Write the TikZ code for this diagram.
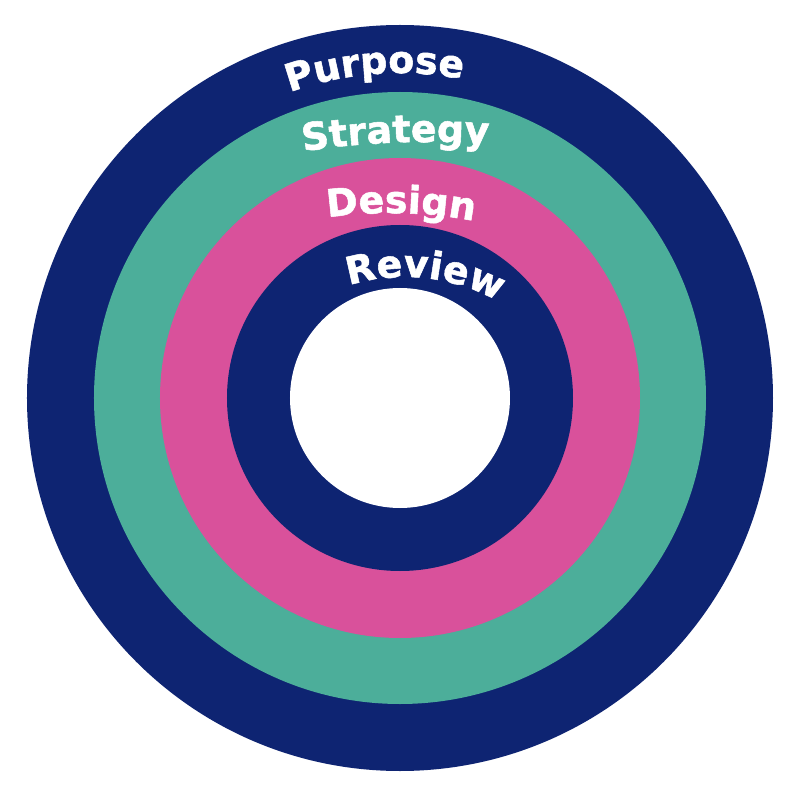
\documentclass[tikz,border=0pt]{standalone}
\usepackage{fontspec}
\setmainfont{DejaVu Sans}
\newfontfamily\ringfont{DejaVu Sans Bold}[FakeBold=1.4]
\usetikzlibrary{decorations.text}
\definecolor{ringnavy}{RGB}{14,36,114}
\definecolor{ringteal}{RGB}{76,174,154}
\definecolor{ringpink}{RGB}{217,81,155}
\tikzset{
  ringlabel/.style={decorate, decoration={text along path, text align=center,
    text={|\color{white}\ringfont\fontsize{27}{30}\selectfont|#1}}}
}
\begin{document}
\begin{tikzpicture}
  \fill[white](-10, -10.05) rectangle (10, 9.95);
  \fill[ringnavy](0, 0) circle (9.325);
    \fill[ringteal](0, 0) circle (7.65);
    \fill[ringpink](0, 0) circle (6);
    \fill[ringnavy](0, 0) circle (4.325);
  \fill[white](0, 0) circle (2.75);
  \path[ringlabel=Purpose](124.4:8.125) arc[start angle=124.4, end angle=64.4, radius=8.125];
  \path[ringlabel=Strategy, shift={(0.625, -13.6)}](100.1:20) arc[start angle=100.1, end angle=84.1, radius=20];
  \path[ringlabel=Design, shift={(-0.25, -6.625)}](100.6:11.25) arc[start angle=100.6, end angle=76.6, radius=11.25];
  \path[ringlabel=Review, shift={(0.125, -1.725)}](119:4.75) arc[start angle=119, end angle=49, radius=4.75];
\end{tikzpicture}
\end{document}
